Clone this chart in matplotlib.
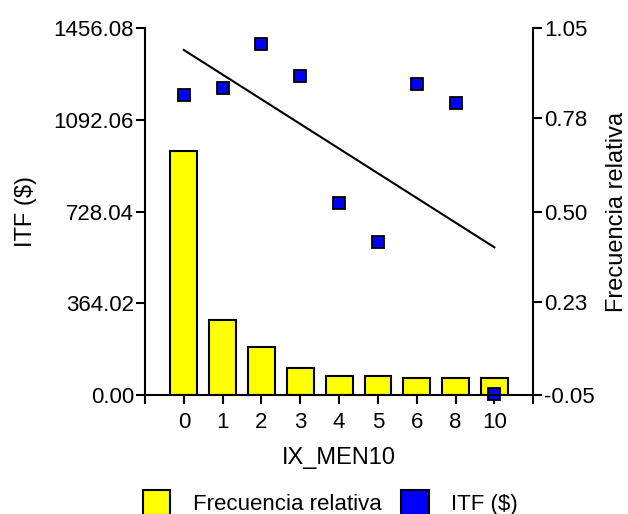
import numpy as np
import matplotlib
matplotlib.use("Agg")
from matplotlib import pyplot as plt
from matplotlib.patches import Patch

plt.rcParams["font.family"] = ["Liberation Sans", "DejaVu Sans"]
plt.rcParams["font.size"] = 16

categories = ["0", "1", "2", "3", "4", "5", "6", "8", "10"]
frecuencia = [0.68, 0.175, 0.095, 0.032, 0.007, 0.007, 0.001, 0.001, 0.001]
itf = [1190.3, 1216.8, 1391.3, 1265.6, 763.0, 605.7, 1232.5, 1159.8, 5.0]
trend_itf = [1368.8, 586.0]  # fitted line, first and last category

left_ticks = [0.00, 364.02, 728.04, 1092.06, 1456.08]
right_ticks = [-0.05, 0.23, 0.50, 0.78, 1.05]

pos = np.arange(1, len(categories) + 1)

fig = plt.figure(figsize=(6.28, 5.14), dpi=100)
ax = fig.add_axes([0.231, 0.2315, 0.618, 0.714])
ax2 = ax.twinx()

# bars start at the bottom of the right axis
bottom = right_ticks[0]
ax2.bar(pos, [f - bottom for f in frecuencia], bottom=bottom, width=0.69,
        color="#ffff00", edgecolor="black", linewidth=1.5)
ax2.set_ylim(right_ticks[0], right_ticks[-1])
ax2.set_yticks(right_ticks)
ax2.set_yticklabels(["%.2f" % t for t in right_ticks])
ax2.set_ylabel("Frecuencia relativa", fontsize=17, labelpad=8)

ax.set_zorder(ax2.get_zorder() + 1)
ax.patch.set_visible(False)
ax.plot([pos[0], pos[-1]], trend_itf, color="black", linewidth=1.5)
ax.plot(pos, itf, linestyle="none", marker="s", markersize=8.5,
        markerfacecolor="#0000ff", markeredgecolor="black",
        markeredgewidth=1.3, clip_on=False)
ax.set_ylim(left_ticks[0], left_ticks[-1])
ax.set_yticks(left_ticks)
ax.set_yticklabels(["%.2f" % t for t in left_ticks])
ax.set_ylabel("ITF ($)", fontsize=17, labelpad=12)

ax.set_xlim(0, len(categories) + 1)
ax.set_xticks([0] + list(pos) + [len(categories) + 1])
ax.set_xticklabels([""] + categories + [""])
ax.set_xlabel("IX_MEN10", fontsize=17, labelpad=10)

for a in (ax, ax2):
    a.spines["top"].set_visible(False)
    for s in a.spines.values():
        s.set_linewidth(1.5)
    a.tick_params(width=1.5, length=6.5, pad=1.5, labelsize=16)
ax.tick_params(axis="x", pad=6)
ax2.spines["left"].set_visible(False)
ax2.spines["bottom"].set_visible(False)
ax.spines["right"].set_visible(False)

handles = [Patch(facecolor="#ffff00", edgecolor="black", linewidth=1.5),
           Patch(facecolor="#0000ff", edgecolor="black", linewidth=1.5)]
fig.legend(handles, ["Frecuencia relativa", "ITF ($)"], ncol=2,
           loc="center", bbox_to_anchor=(0.526, 0.022), frameon=False,
           fontsize=16, handlelength=1.25, handleheight=1.3,
           handletextpad=1.0, columnspacing=0.9, borderpad=0)

plt.savefig("out.png", dpi=100)
